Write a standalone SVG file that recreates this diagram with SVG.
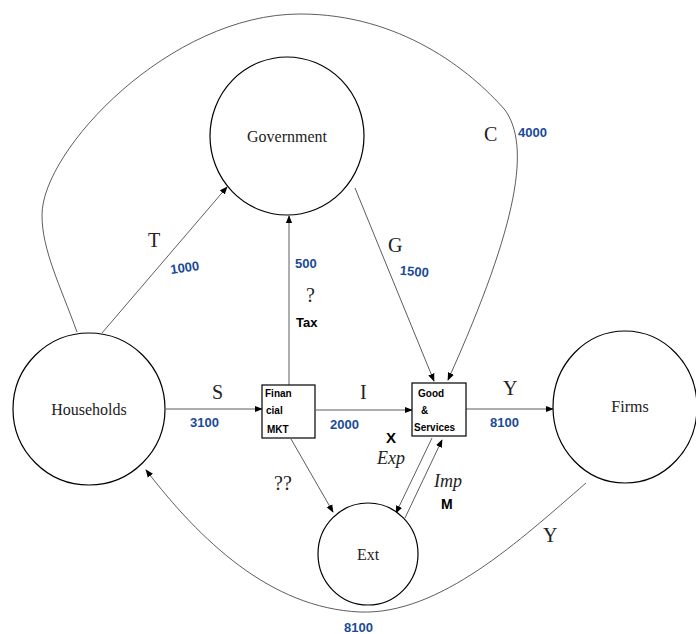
<svg xmlns="http://www.w3.org/2000/svg" width="696" height="634" viewBox="0 0 696 634">
  <style>
    .node { fill: #fff; stroke: #000; stroke-width: 1.2; }
    .edge { fill: none; stroke: #333; stroke-width: 0.8; }
    .lbl { font-family: "Liberation Serif", "DejaVu Serif", serif; fill: #222; }
    .nlbl { font-family: "Liberation Serif", "DejaVu Serif", serif; font-size: 16px; fill: #222; text-anchor: middle; }
    .big { font-size: 20px; }
    .it { font-style: italic; font-size: 18px; }
    .num { font-family: "Liberation Sans Narrow", "Liberation Sans", sans-serif; font-weight: bold; font-size: 13px; fill: #1a4a9a; }
    .hand { font-family: "Liberation Sans Narrow", "Liberation Sans", sans-serif; font-weight: bold; fill: #000; }
  </style>
  <defs>
    <marker id="arr" viewBox="0 0 10 10" refX="9" refY="5" markerWidth="8" markerHeight="8" markerUnits="userSpaceOnUse" orient="auto">
      <path d="M0,1 L10,5 L0,9 z" fill="#000"/>
    </marker>
  </defs>

  <rect width="696" height="634" fill="#fff"/>

  <!-- flows between sectors -->
  <g id="connectors">
    <path class="edge" d="M77 332 C60 285 42 250 42 215 C42 150 170 14 300 14 C400 14 470 70 505 110 C530 145 520 220 448 380" marker-end="url(#arr)"/>
    <path class="edge" d="M586 483 C520 540 440 615 360 612 C270 608 200 540 146 470" marker-end="url(#arr)"/>
    <line class="edge" x1="102" y1="333" x2="227" y2="187" marker-end="url(#arr)"/>
    <line class="edge" x1="289" y1="385" x2="289" y2="216" marker-end="url(#arr)"/>
    <line class="edge" x1="355" y1="188" x2="434" y2="381" marker-end="url(#arr)"/>
    <line class="edge" x1="166" y1="409" x2="262" y2="409" marker-end="url(#arr)"/>
    <line class="edge" x1="316" y1="410" x2="412" y2="410" marker-end="url(#arr)"/>
    <line class="edge" x1="466" y1="409" x2="553" y2="409" marker-end="url(#arr)"/>
    <line class="edge" x1="291" y1="439" x2="333" y2="512" marker-end="url(#arr)"/>
    <line class="edge" x1="432" y1="438" x2="396" y2="513" marker-end="url(#arr)"/>
    <line class="edge" x1="405" y1="518" x2="442" y2="440" marker-end="url(#arr)"/>
  </g>

  <g id="government">
    <ellipse class="node" cx="287" cy="136" rx="77" ry="79"/>
    <text class="nlbl" x="287" y="142">Government</text>
  </g>
  <g id="households">
    <ellipse class="node" cx="89" cy="409" rx="76" ry="76"/>
    <text class="nlbl" x="89" y="415">Households</text>
  </g>
  <g id="firms">
    <ellipse class="node" cx="625" cy="407" rx="72" ry="76"/>
    <text class="nlbl" x="630" y="412">Firms</text>
  </g>
  <g id="ext">
    <ellipse class="node" cx="368" cy="554" rx="50" ry="51"/>
    <text class="nlbl" x="368" y="560">Ext</text>
  </g>
  <g id="financial-mkt">
    <rect class="node" x="262" y="385" width="53" height="53"/>
    <text class="hand" font-size="10"><tspan x="265" y="397">Finan</tspan><tspan x="266" y="414">cial</tspan><tspan x="267" y="433">MKT</tspan></text>
  </g>
  <g id="goods-services">
    <rect class="node" x="412" y="383" width="54" height="53"/>
    <text class="hand" font-size="10"><tspan x="418" y="397">Good</tspan><tspan x="421" y="414">&amp;</tspan><tspan x="414" y="431">Services</tspan></text>
  </g>

  <!-- flow labels -->
  <g id="labels">
    <text class="lbl big" x="148" y="247">T</text>
    <text class="lbl big" x="212" y="399">S</text>
    <text class="lbl big" x="360" y="399">I</text>
    <text class="lbl big" x="503" y="395">Y</text>
    <text class="lbl big" x="388" y="252">G</text>
    <text class="lbl big" x="484" y="141">C</text>
    <text class="lbl big" x="543" y="542">Y</text>
    <text class="lbl" font-size="20" x="306" y="302">?</text>
    <text class="lbl" font-size="20" x="274" y="490">??</text>
    <text class="lbl it" x="377" y="464">Exp</text>
    <text class="lbl it" x="434" y="487">Imp</text>
    <text class="hand" font-size="15" x="386" y="443">X</text>
    <text class="hand" font-size="13" x="296" y="327">Tax</text>
    <text class="hand" font-size="14" x="441" y="509">M</text>
  </g>

  <!-- amounts -->
  <g id="amounts">
    <text class="num" x="170" y="272" transform="rotate(-8 185 266)">1000</text>
    <text class="num" x="295" y="268">500</text>
    <text class="num" x="400" y="276" transform="rotate(5 415 271)">1500</text>
    <text class="num" font-size="17" x="518" y="137">4000</text>
    <text class="num" x="190" y="427">3100</text>
    <text class="num" x="330" y="429">2000</text>
    <text class="num" font-size="14" x="490" y="427">8100</text>
    <text class="num" font-size="18" x="344" y="632">8100</text>
  </g>
</svg>
